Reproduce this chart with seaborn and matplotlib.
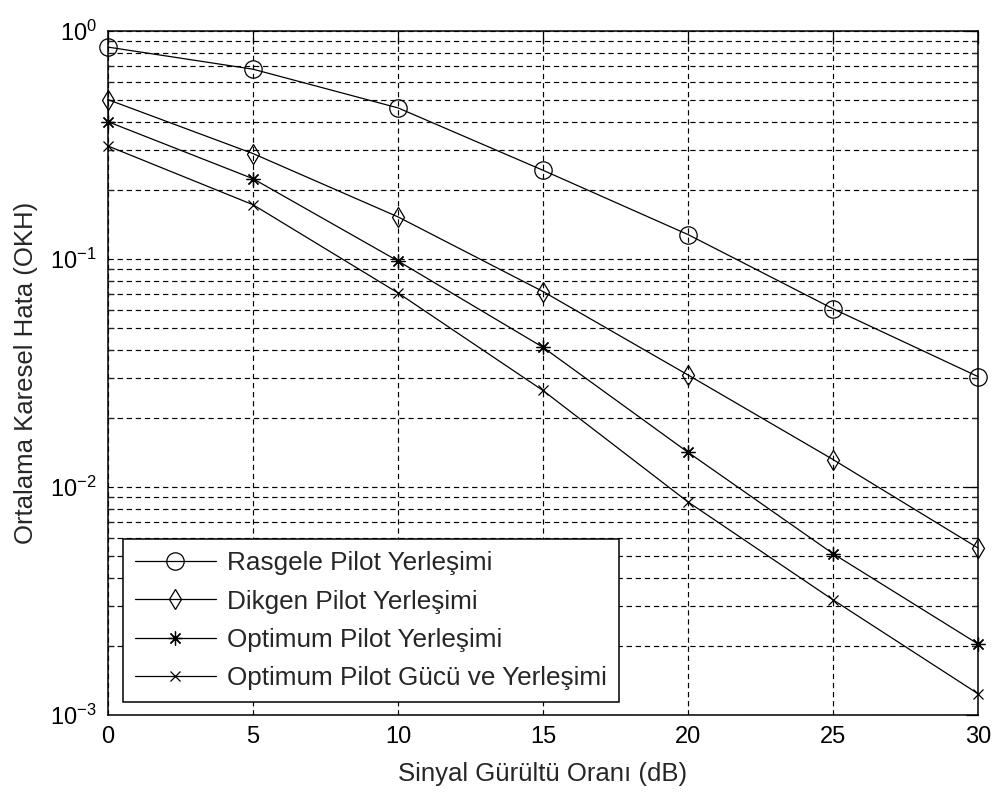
import matplotlib
matplotlib.use("Agg")
import matplotlib.pyplot as plt
from matplotlib.ticker import LogLocator, FixedLocator, NullFormatter, LogFormatterSciNotation
import seaborn as sns

# SNR axis (dB)
snr = [0, 5, 10, 15, 20, 25, 30]

# Mean squared error for each pilot scheme
rasgele = [0.85, 0.68, 0.46, 0.245, 0.128, 0.0605, 0.0305]
dikgen = [0.50, 0.29, 0.153, 0.072, 0.031, 0.0132, 0.0054]
optimum = [0.40, 0.225, 0.098, 0.041, 0.0142, 0.0051, 0.00205]
optimum_guc = [0.313, 0.173, 0.071, 0.0265, 0.0086, 0.0032, 0.00124]

labels = [
    "Rasgele Pilot Yerleşimi",
    "Dikgen Pilot Yerleşimi",
    "Optimum Pilot Yerleşimi",
    "Optimum Pilot Gücü ve Yerleşimi",
]

sns.set_style("white")
plt.rcParams["font.family"] = ["Liberation Sans", "DejaVu Sans"]
plt.rcParams["mathtext.fontset"] = "custom"
plt.rcParams["mathtext.rm"] = "Liberation Sans"
plt.rcParams["mathtext.default"] = "regular"

fig = plt.figure(figsize=(9.94, 7.92), dpi=100)
ax = fig.add_axes([108 / 994, 1 - 715 / 792, 870 / 994, 684 / 792])

styles = [
    dict(marker="o", markersize=12.5),
    dict(marker="d", markersize=10.5),
    dict(marker=(8, 2, 0), markersize=10),
    dict(marker="x", markersize=7),
]

for series, lab, st in zip([rasgele, dikgen, optimum, optimum_guc], labels, styles):
    sns.lineplot(
        x=snr, y=series, ax=ax, label=lab, color="black", linewidth=0.9,
        markerfacecolor="none", markeredgecolor="black", markeredgewidth=0.9,
        zorder=3, clip_on=False, **st,
    )

ax.set_yscale("log")
ax.set_xlim(0, 30)
ax.set_ylim(1e-3, 1)

ax.xaxis.set_major_locator(FixedLocator(snr))
ax.yaxis.set_major_locator(LogLocator(base=10, numticks=10))
ax.yaxis.set_minor_locator(LogLocator(base=10, subs=range(2, 10), numticks=20))
ax.yaxis.set_minor_formatter(NullFormatter())
ax.yaxis.set_major_formatter(LogFormatterSciNotation())

ax.tick_params(axis="both", which="major", direction="in", length=9, width=0.9,
               top=True, right=True, labelsize=17, pad=8, colors="black")
ax.tick_params(axis="y", which="minor", direction="in", length=4, width=0.9,
               left=True, right=True)

grid_kw = dict(color="black", linestyle=(0, (4.5, 3.2)), linewidth=0.85)
ax.grid(True, which="major", axis="both", **grid_kw)
ax.grid(True, which="minor", axis="y", **grid_kw)
ax.set_axisbelow(True)

for s in ax.spines.values():
    s.set_color("black")
    s.set_linewidth(1.1)

ax.set_xlabel("Sinyal Gürültü Oranı (dB)", fontsize=18.5, labelpad=10)
ax.set_ylabel("Ortalama Karesel Hata (OKH)", fontsize=18.5, labelpad=9)

leg = ax.legend(
    loc="lower left", bbox_to_anchor=(15 / 870, 13 / 684), borderaxespad=0,
    fontsize=18.8, frameon=True, fancybox=False, framealpha=1,
    edgecolor="black", handlelength=3.1, handletextpad=0.45,
    labelspacing=0.55, borderpad=0.45,
)
leg.get_frame().set_linewidth(1.1)
leg.set_zorder(5)

fig.savefig("out.png", dpi=100, facecolor="white")
